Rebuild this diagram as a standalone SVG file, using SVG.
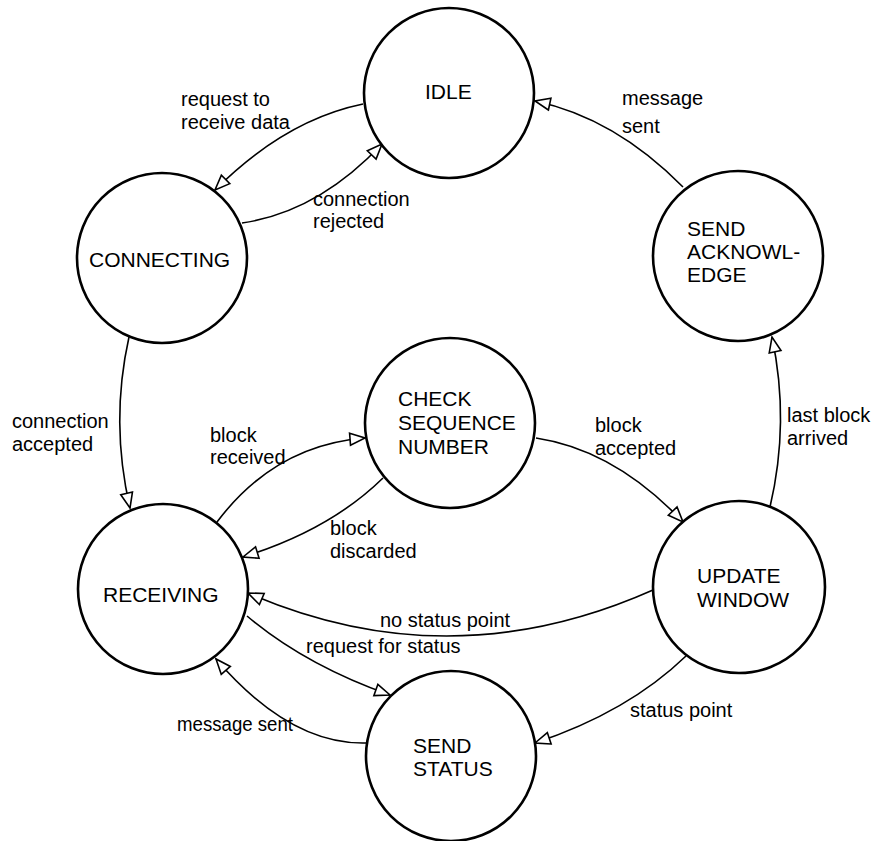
<svg xmlns="http://www.w3.org/2000/svg" width="890" height="841" viewBox="0 0 890 841">
<style>
.node circle{fill:#fff;stroke:#000;stroke-width:2.6}
.node text{font-family:"Liberation Sans",Arial,sans-serif;font-size:21px;fill:#000}
.edge path{fill:none;stroke:#000;stroke-width:1.6}
.lbl{font-family:"Liberation Sans",Arial,sans-serif;font-size:20px;fill:#000}
</style>
<defs>
<marker id="arr" markerUnits="userSpaceOnUse" markerWidth="18" markerHeight="14" refX="15" refY="6" orient="auto" overflow="visible">
<path d="M0,0 L15,6 L0,12 Z" fill="#fff" stroke="#000" stroke-width="1.6"/>
</marker>
</defs>
<rect width="890" height="841" fill="#fff"/>
<g id="connectors" class="edge">
<path d="M363,104 Q285,120 215,190" marker-end="url(#arr)"/>
<path d="M242,223 Q318,212 382,144" marker-end="url(#arr)"/>
<path d="M683,187 Q615,118 535,101" marker-end="url(#arr)"/>
<path d="M129,337 Q110,422 130,508" marker-end="url(#arr)"/>
<path d="M217,522 Q275,445 365,438" marker-end="url(#arr)"/>
<path d="M383,478 Q330,530 243,557" marker-end="url(#arr)"/>
<path d="M536,438 Q615,450 683,522" marker-end="url(#arr)"/>
<path d="M770,507 Q790,422 772,337" marker-end="url(#arr)"/>
<path d="M653,590 Q449.5,680.5 248,593" marker-end="url(#arr)"/>
<path d="M247,616 Q305,665 390,695" marker-end="url(#arr)"/>
<path d="M366,743 Q290,745 216,659" marker-end="url(#arr)"/>
<path d="M686,656 Q628,712 535,743" marker-end="url(#arr)"/>
</g>
<g id="labels" class="lbl">
<text x="181" y="106">request to</text>
<text x="181" y="129">receive data</text>
<text x="313" y="206">connection</text>
<text x="313" y="228">rejected</text>
<text x="622" y="105">message</text>
<text x="622" y="133">sent</text>
<text x="12" y="428">connection</text>
<text x="12" y="451">accepted</text>
<text x="210" y="442">block</text>
<text x="210" y="464">received</text>
<text x="330" y="535">block</text>
<text x="330" y="558">discarded</text>
<text x="595" y="432">block</text>
<text x="595" y="455">accepted</text>
<text x="787" y="422">last block</text>
<text x="787" y="445">arrived</text>
<text x="380" y="627">no status point</text>
<text x="306" y="653">request for status</text>
<text x="177" y="731" textLength="116" lengthAdjust="spacingAndGlyphs">message sent</text>
<text x="630" y="717">status point</text>
</g>
<g id="idle" class="node"><circle cx="449" cy="93" r="85"/><text x="425" y="99">IDLE</text></g>
<g id="connecting" class="node"><circle cx="162" cy="258" r="85"/><text x="89" y="267">CONNECTING</text></g>
<g id="send-ack" class="node"><circle cx="738" cy="256" r="85"/><text x="687" y="236">SEND</text><text x="687" y="259">ACKNOWL-</text><text x="687" y="282">EDGE</text></g>
<g id="check-seq" class="node"><circle cx="450" cy="423" r="85"/><text x="398" y="406">CHECK</text><text x="398" y="430">SEQUENCE</text><text x="398" y="454">NUMBER</text></g>
<g id="receiving" class="node"><circle cx="163" cy="589" r="85"/><text x="103" y="602">RECEIVING</text></g>
<g id="update-window" class="node"><circle cx="739" cy="587" r="86"/><text x="697" y="583">UPDATE</text><text x="697" y="607">WINDOW</text></g>
<g id="send-status" class="node"><circle cx="451" cy="756" r="85"/><text x="413" y="753">SEND</text><text x="413" y="776">STATUS</text></g>
</svg>
